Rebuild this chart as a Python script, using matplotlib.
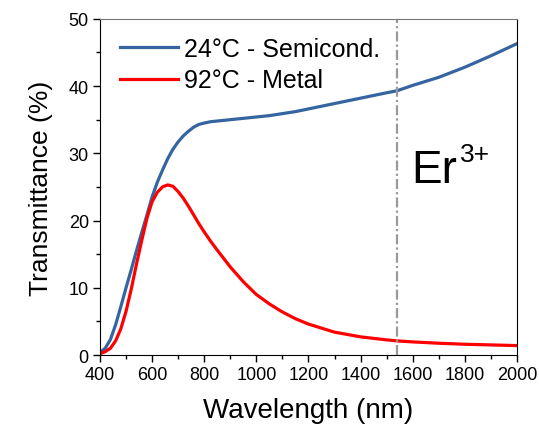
import matplotlib
matplotlib.use('Agg')
import matplotlib.pyplot as plt
from matplotlib.ticker import MultipleLocator

plt.rcParams['font.family'] = ['Liberation Sans', 'DejaVu Sans']

# transmittance spectra of the film below / above the transition
wavelength = [400, 420, 440, 460, 480, 500, 520, 540, 560, 580, 600, 620, 640, 660, 680,
              700, 720, 740, 760, 780, 800, 825, 850, 900, 950, 1000, 1050, 1100, 1150,
              1200, 1300, 1400, 1500, 1540, 1600, 1700, 1800, 1900, 2000]
t_semicond = [0.4, 1.0, 2.3, 4.5, 7.2, 10.0, 12.7, 15.5, 18.2, 20.8, 23.5, 25.7, 27.5, 29.2, 30.6,
              31.7, 32.6, 33.3, 33.9, 34.3, 34.5, 34.7, 34.8, 35.0, 35.2, 35.4, 35.6, 35.9, 36.2,
              36.6, 37.4, 38.2, 39.0, 39.3, 40.1, 41.3, 42.8, 44.5, 46.3]
t_metal = [0.2, 0.5, 1.0, 2.1, 3.9, 6.5, 9.8, 13.5, 17.0, 20.3, 22.8, 24.2, 25.0, 25.3, 25.1,
           24.3, 23.3, 22.1, 20.8, 19.5, 18.3, 16.9, 15.6, 13.1, 10.9, 9.0, 7.6, 6.4, 5.4,
           4.6, 3.4, 2.7, 2.25, 2.1, 1.95, 1.75, 1.6, 1.5, 1.4]
er_line = 1540

fig = plt.figure(figsize=(5.39, 4.31), dpi=100)
ax = fig.add_axes([0.1855, 0.174, 0.7735, 0.78])

ax.plot(wavelength, t_semicond, color='#3565a0', lw=2.3, label='24°C - Semicond.')
ax.plot(wavelength, t_metal, color='#ff0000', lw=2.3, label='92°C - Metal')
ax.axvline(er_line, color='#999999', lw=1.6, ls=(0, (4.5, 1.4, 1, 1.4)))

# Er3+ label: base text plus a raised "3+"
ax.text(1595, 25.7, 'Er', fontsize=33, ha='left', va='baseline')
ax.text(1782, 28.9, '3+', fontsize=19, ha='left', va='baseline')

ax.set_xlim(400, 2000)
ax.set_ylim(0, 50)
ax.xaxis.set_major_locator(MultipleLocator(200))
ax.xaxis.set_minor_locator(MultipleLocator(100))
ax.yaxis.set_major_locator(MultipleLocator(10))
ax.yaxis.set_minor_locator(MultipleLocator(5))
ax.tick_params(which='major', direction='out', length=5, width=1, labelsize=13, pad=3)
ax.tick_params(which='minor', direction='out', length=3, width=1)
ax.spines['top'].set_color('#777777')
ax.spines['top'].set_linewidth(0.8)

ax.set_xlabel('Wavelength (nm)', fontsize=20, labelpad=10)
ax.set_ylabel('Transmittance (%)', fontsize=19, labelpad=11)

ax.legend(loc='upper left', fontsize=18, frameon=False, handlelength=2.3,
          handletextpad=0.25, borderaxespad=0.0, labelspacing=0.3,
          bbox_to_anchor=(0.025, 0.976))

fig.savefig('out.png', dpi=100)
